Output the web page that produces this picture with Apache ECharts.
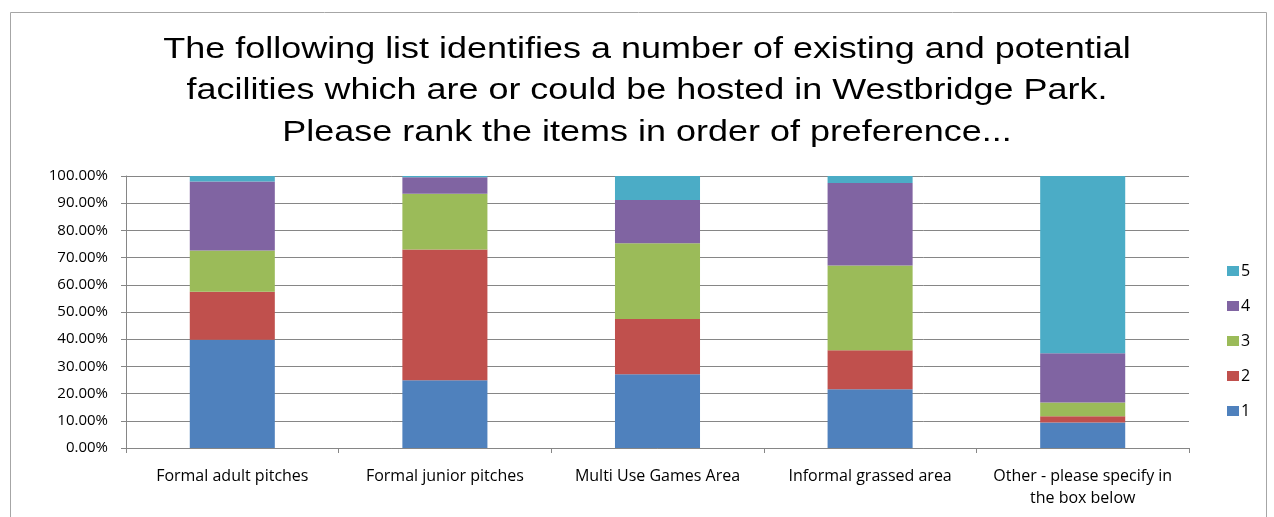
<!DOCTYPE html>
<html>
<head>
<meta charset="utf-8">
<script src="https://cdn.jsdelivr.net/npm/echarts@6/dist/echarts.min.js"></script>
<style>
  html, body { margin: 0; padding: 0; background: #fff; }
  #chart { width: 1274px; height: 517px; }
</style>
</head>
<body>
<div id="chart"></div>
<script>
// categories along the x axis
const categories = [
    'Formal adult pitches',
    'Formal junior pitches',
    'Multi Use Games Area',
    'Informal grassed area',
    'Other - please specify in\nthe box below'
];

// share of responses (%) for each rank
const rank1 = [39.8, 24.9, 27.1, 21.6, 9.4];
const rank2 = [17.6, 48.1, 20.3, 14.3, 2.3];
const rank3 = [15.2, 20.5, 27.9, 31.2, 5.0];
const rank4 = [25.4, 6.0, 15.9, 30.3, 18.1];
const rank5 = [2.0, 0.5, 8.8, 2.6, 65.2];

const rankNames = ['1', '2', '3', '4', '5'];
const rankColors = ['#4F81BD', '#C0504D', '#9BBB59', '#8064A2', '#4BACC6'];
const rankData = [rank1, rank2, rank3, rank4, rank5];

const titleText = 'The following list identifies a number of existing and potential\n' +
    'facilities which are or could be hosted in Westbridge Park.\n' +
    'Please rank the items in order of preference...';

var myChart = echarts.init(document.getElementById('chart'));

var option = {
    animation: false,
    backgroundColor: '#fff',
    graphic: [{
        type: 'rect',
        shape: { x: 10.5, y: 12.5, width: 1256, height: 520 },
        style: { fill: 'none', stroke: '#A6A6A6', lineWidth: 1 },
        silent: true
    }, {
        // title is a bit wider than Arial in the original, so stretch it
        type: 'text',
        x: 647,
        y: 29,
        scaleX: 1.24,
        silent: true,
        style: {
            text: titleText,
            x: 0,
            y: 0,
            align: 'center',
            verticalAlign: 'top',
            fontFamily: 'Liberation Sans',
            fontSize: 29,
            lineHeight: 41.5,
            fill: '#000'
        }
    }],
    legend: {
        orient: 'vertical',
        left: 1222,
        top: 258,
        itemWidth: 12,
        itemHeight: 10,
        itemGap: 19,
        icon: 'rect',
        data: ['5', '4', '3', '2', '1'],
        textStyle: { fontFamily: 'Open Sans', fontSize: 16, color: '#000', padding: [0, 0, 0, -3] }
    },
    grid: {
        left: 126,
        right: 85,
        top: 176,
        bottom: 69,
        containLabel: false
    },
    xAxis: {
        type: 'category',
        data: categories,
        axisLine: { lineStyle: { color: '#868686' } },
        axisTick: { show: true, length: 5, lineStyle: { color: '#868686' } },
        axisLabel: {
            margin: 17,
            interval: 0,
            fontFamily: 'Open Sans',
            fontSize: 16,
            color: '#000',
            lineHeight: 22
        }
    },
    yAxis: {
        type: 'value',
        min: 0,
        max: 100,
        interval: 10,
        axisLine: { show: true, lineStyle: { color: '#868686' } },
        axisTick: { show: true, length: 5, lineStyle: { color: '#868686' } },
        splitLine: { lineStyle: { color: '#868686', width: 1 } },
        axisLabel: {
            margin: 18,
            fontFamily: 'Open Sans',
            fontSize: 15,
            color: '#000',
            formatter: function (v) { return v.toFixed(2) + '%'; }
        }
    },
    series: rankNames.map(function (name, i) {
        return {
            name: name,
            type: 'bar',
            stack: 'rank',
            barWidth: '40%',
            itemStyle: { color: rankColors[i] },
            data: rankData[i]
        };
    })
};

myChart.setOption(option);
</script>
</body>
</html>
